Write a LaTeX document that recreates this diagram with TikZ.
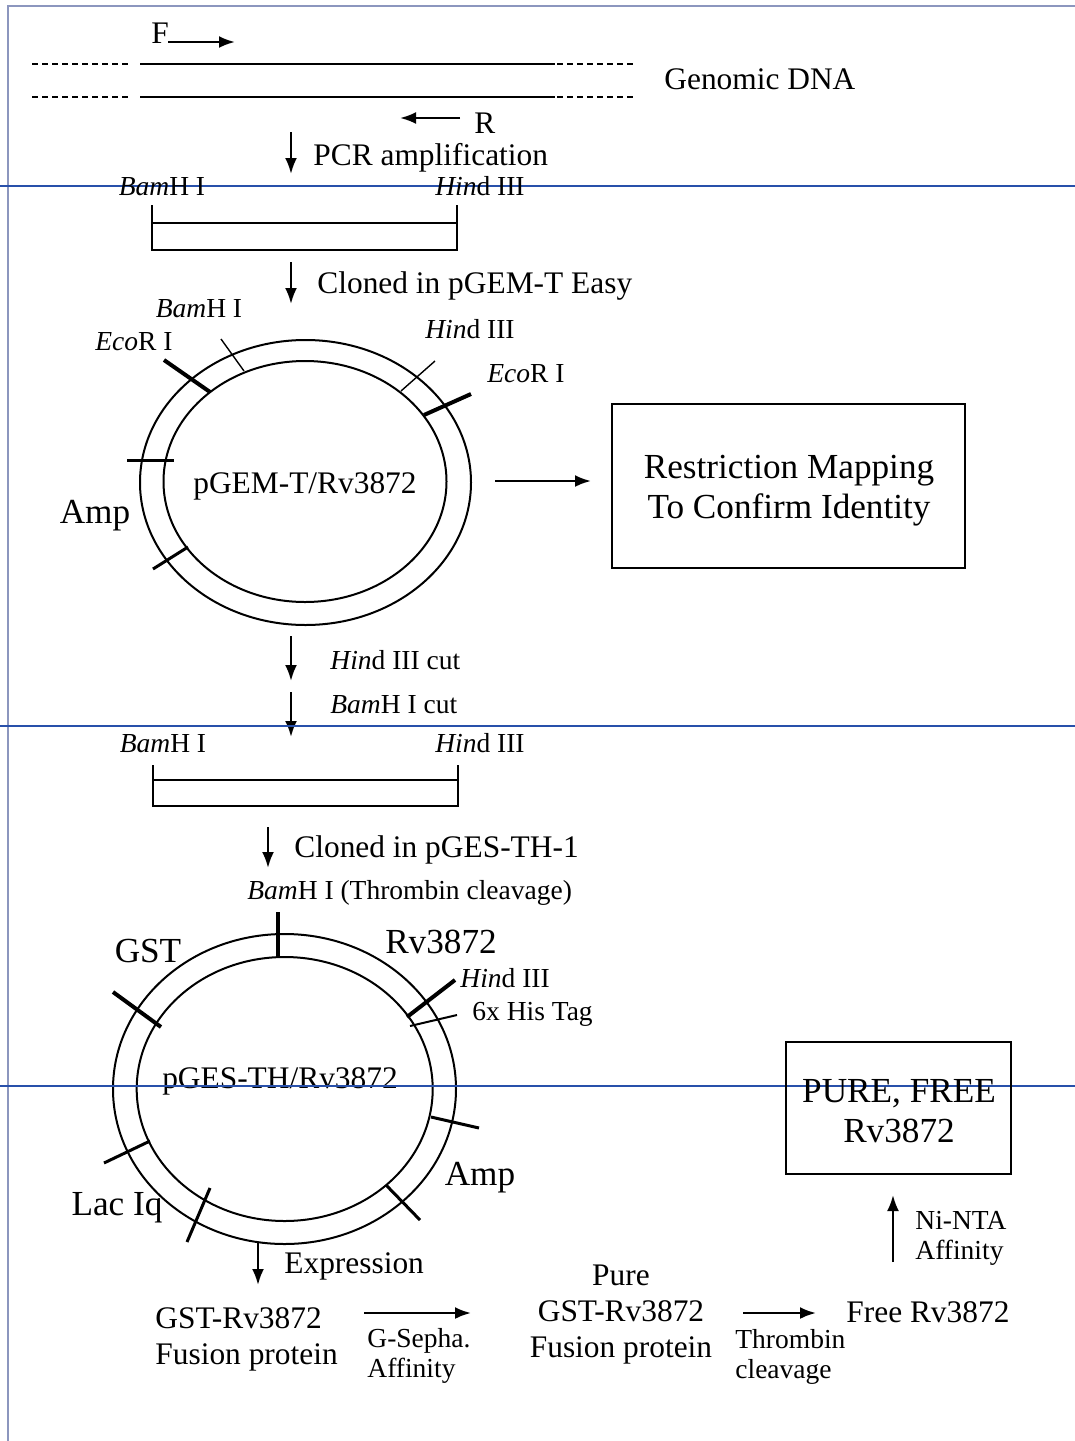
\documentclass[tikz,border=0pt]{standalone}
\usepackage{fontspec}
\setmainfont{Liberation Serif}
\usetikzlibrary{arrows.meta}
\definecolor{scanblue}{RGB}{40,80,170}
\definecolor{framegray}{RGB}{140,150,190}

\begin{document}
\begin{tikzpicture}[x=0.5pt,y=-0.5pt]
	\tikzstyle{lab_small} = [inner sep=0pt, font=\fontsize{13.75}{15}\selectfont]
	\tikzstyle{lab_mid} = [inner sep=0pt, font=\fontsize{15.7}{18}\selectfont]
	\tikzstyle{lab_big} = [inner sep=0pt, font=\fontsize{17.6}{20}\selectfont]
	\tikzstyle{ring_line} = [line width=1pt]
	\tikzstyle{tick_thick} = [line width=2pt]
	\tikzstyle{tick_thin} = [line width=0.7pt]
	\tikzstyle{step_arrow} = [line width=1.2pt, -{Latex[length=8pt,width=6pt]}]
	\tikzstyle{scan_line} = [line width=0.6pt, draw=scanblue]
	\tikzstyle{result_box} = [draw, line width=1pt]

	\useasboundingbox (0,0) rectangle (1075,1441);
	\draw[line width=0.8pt, framegray] (8,1441) -- (8,6) -- (1075,6);

%------------------------------------------------------------
	\draw[line width=1.2pt, dash pattern=on 3pt off 2pt] (32,64) -- (128,64);
	\draw[line width=1.2pt] (140,64) -- (555,64);
	\draw[line width=1.2pt, dash pattern=on 3pt off 2pt] (557,64) -- (635,64);
	\draw[line width=1.2pt, dash pattern=on 3pt off 2pt] (32,97) -- (128,97);
	\draw[line width=1.2pt] (140,97) -- (555,97);
	\draw[line width=1.2pt, dash pattern=on 3pt off 2pt] (557,97) -- (635,97);

	\node[lab_mid, anchor=base] (f_txt) at (160,43) {F};
	\coordinate (f_from) at (168,42);
	\coordinate (f_to) at (235,42);
	\draw[step_arrow] (f_from) -- (f_to);

	\node[lab_mid, anchor=base west] (r_txt) at (474,133) {R};
	\coordinate (r_from) at (460,118);
	\coordinate (r_to) at (400,118);
	\draw[step_arrow] (r_from) -- (r_to);

	\node[lab_mid, anchor=base west] (genomic) at (664,89) {Genomic DNA};

	\coordinate (pcr_top) at (291,132);
	\coordinate (pcr_bot) at (291,174);
	\draw[step_arrow] (pcr_top) -- (pcr_bot);
	\node[lab_mid, anchor=base west] (pcr_txt) at (313,165) {PCR amplification};

	\draw[scan_line] (0,186) -- (1075,186);

%------------------------------------------------------------
	\node[lab_small, anchor=base] (frag1_bam) at (162,195) {\textit{Bam}H I};
	\node[lab_small, anchor=base] (frag1_hind) at (480,195) {\textit{Hin}d III};
	\draw[line width=1pt] (152,205) -- (152,250) -- (457,250) -- (457,205);
	\draw[line width=1pt] (152,223) -- (457,223);

	\coordinate (clone1_top) at (291,262);
	\coordinate (clone1_bot) at (291,304);
	\draw[step_arrow] (clone1_top) -- (clone1_bot);
	\node[lab_mid, anchor=base west] (clone1_txt) at (317,293) {Cloned in pGEM-T Easy};

%------------------------------------------------------------
	\draw[ring_line] (305.5,482.5) ellipse [x radius=165.5, y radius=142.5];
	\draw[ring_line] (305,481.5) ellipse [x radius=141.5, y radius=120.5];
	\draw[tick_thick] (164,360) -- (210,392);
	\draw[tick_thin] (221,339) -- (244,371);
	\draw[tick_thin] (435,361) -- (401,391);
	\draw[tick_thick] (471,394) -- (424,415);
	\draw[line width=1.5pt] (127,460) -- (174,460);
	\draw[line width=1.5pt] (153,569) -- (188,547);

	\node[lab_small, anchor=base] (p1_bam) at (199,317) {\textit{Bam}H I};
	\node[lab_small, anchor=base] (p1_eco_l) at (134,350) {\textit{Eco}R I};
	\node[lab_small, anchor=base] (p1_hind) at (470,338) {\textit{Hin}d III};
	\node[lab_small, anchor=base] (p1_eco_r) at (526,382) {\textit{Eco}R I};
	\node[lab_big, anchor=base] (p1_amp) at (95,523) {Amp};
	\node[lab_mid, anchor=base] (p1_name) at (305,493) {pGEM-T/Rv3872};

	\coordinate (map_from) at (495,481);
	\coordinate (map_to) at (591,481);
	\draw[step_arrow] (map_from) -- (map_to);
	\node[result_box, minimum width=176.5pt, minimum height=82pt] (map_box) at (788.5,486) {};
	\node[lab_big, align=center] (map_txt) at (789,491) {Restriction Mapping\\To Confirm Identity};

%------------------------------------------------------------
	\coordinate (hcut_top) at (291,636);
	\coordinate (hcut_bot) at (291,681);
	\draw[step_arrow] (hcut_top) -- (hcut_bot);
	\node[lab_small, anchor=base west] (hcut_txt) at (330,669) {\textit{Hin}d III cut};

	\coordinate (bcut_top) at (291,692);
	\coordinate (bcut_bot) at (291,737);
	\draw[step_arrow] (bcut_top) -- (bcut_bot);
	\node[lab_small, anchor=base west] (bcut_txt) at (330,713) {\textit{Bam}H I cut};

	\draw[scan_line] (0,726) -- (1075,726);

%------------------------------------------------------------
	\node[lab_small, anchor=base] (frag2_bam) at (163,752) {\textit{Bam}H I};
	\node[lab_small, anchor=base] (frag2_hind) at (480,752) {\textit{Hin}d III};
	\draw[line width=1pt] (153,765) -- (153,806) -- (458,806) -- (458,765);
	\draw[line width=1pt] (153,780) -- (458,780);

	\coordinate (clone2_top) at (268,827);
	\coordinate (clone2_bot) at (268,868);
	\draw[step_arrow] (clone2_top) -- (clone2_bot);
	\node[lab_mid, anchor=base west] (clone2_txt) at (294,857) {Cloned in pGES-TH-1};

%------------------------------------------------------------
	\node[lab_small, anchor=base west] (p2_bam) at (247,899) {\textit{Bam}H I (Thrombin cleavage)};
	\draw[ring_line] (284.5,1089) ellipse [x radius=171.5, y radius=155];
	\draw[ring_line] (284.7,1089) ellipse [x radius=148, y radius=132];
	\draw[tick_thick] (278,912) -- (278,958);
	\draw[tick_thick] (113,992) -- (161,1027);
	\draw[tick_thick] (455,980) -- (407,1017);
	\draw[tick_thin, line width=1pt] (457,1015) -- (410,1026);
	\draw[line width=1.5pt] (431,1117) -- (479,1128);
	\draw[line width=1.5pt] (386,1185) -- (420,1220);
	\draw[line width=1.5pt] (210,1188) -- (187,1242);
	\draw[line width=1.5pt] (104,1163) -- (150,1141);

	\node[lab_big, anchor=base] (p2_gst) at (148,962) {GST};
	\node[lab_big, anchor=base] (p2_rv) at (441,953) {Rv3872};
	\node[lab_small, anchor=base west] (p2_hind) at (460,987) {\textit{Hin}d III};
	\node[lab_small, anchor=base west] (p2_his) at (472,1020) {6x His Tag};
	\node[lab_mid, anchor=base] (p2_name) at (280,1088) {pGES-TH/Rv3872};
	\node[lab_big, anchor=base] (p2_amp) at (480,1185) {Amp};
	\node[lab_big, anchor=base] (p2_lac) at (117,1215) {Lac Iq};

	\draw[scan_line] (0,1086) -- (1075,1086);

%------------------------------------------------------------
	\coordinate (expr_top) at (258,1243);
	\coordinate (expr_bot) at (258,1285);
	\draw[step_arrow] (expr_top) -- (expr_bot);
	\node[lab_mid, anchor=base west] (expr_txt) at (284,1273) {Expression};

	\node[lab_mid, anchor=west, align=left] (fusion) at (155,1339) {GST-Rv3872\\Fusion protein};
	\coordinate (seph_from) at (364,1313);
	\coordinate (seph_to) at (471,1313);
	\draw[step_arrow] (seph_from) -- (seph_to);
	\node[lab_small, anchor=west, align=left] (seph_txt) at (367,1356) {G-Sepha.\\Affinity};

	\node[lab_mid, align=center] (pure_fusion) at (621,1315) {Pure\\GST-Rv3872\\Fusion protein};
	\coordinate (thr_from) at (743,1313);
	\coordinate (thr_to) at (816,1313);
	\draw[step_arrow] (thr_from) -- (thr_to);
	\node[lab_small, anchor=west, align=left] (thr_txt) at (735,1357) {Thrombin\\cleavage};

	\node[lab_mid, anchor=base west] (free_rv) at (846,1322) {Free Rv3872};

	\coordinate (ni_from) at (893,1262);
	\coordinate (ni_to) at (893,1195);
	\draw[step_arrow] (ni_from) -- (ni_to);
	\node[lab_small, anchor=west, align=left] (ni_txt) at (915,1238) {Ni-NTA\\Affinity};

	\node[result_box, minimum width=112.5pt, minimum height=66pt] (pure_box) at (898.5,1108) {};
	\node[lab_big, align=center] (pure_txt) at (899,1111) {PURE, FREE\\Rv3872};

\end{tikzpicture}
\end{document}
